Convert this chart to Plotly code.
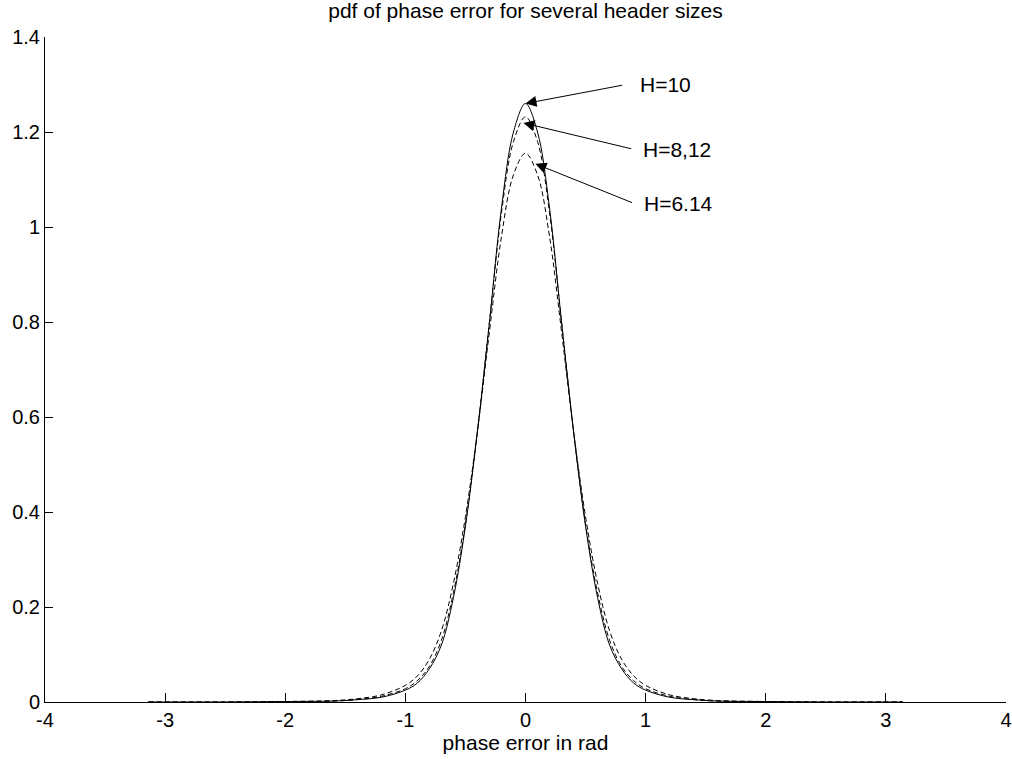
import plotly.graph_objects as go

# phase error grid (rad)
phase = [-3.14, -2.5, -2.0, -1.6, -1.4, -1.2, -1.0, -0.9, -0.8, -0.7, -0.6, -0.5, -0.4, -0.3, -0.2, -0.1, 0.0,
         0.1, 0.2, 0.3, 0.4, 0.5, 0.6, 0.7, 0.8, 0.9, 1.0, 1.2, 1.4, 1.6, 2.0, 2.5, 3.14]

# pdf values
pdf_h10 = [0.0, 0.0, 0.001, 0.002, 0.005, 0.01, 0.025, 0.04, 0.07, 0.12, 0.22, 0.37, 0.57, 0.80, 1.04, 1.20, 1.26,
           1.20, 1.04, 0.80, 0.57, 0.37, 0.22, 0.12, 0.07, 0.04, 0.025, 0.01, 0.005, 0.002, 0.001, 0.0, 0.0]
pdf_h8_12 = [0.0, 0.0, 0.001, 0.002, 0.005, 0.012, 0.028, 0.045, 0.075, 0.13, 0.23, 0.375, 0.57, 0.80, 1.03, 1.18, 1.232,
             1.18, 1.03, 0.80, 0.57, 0.375, 0.23, 0.13, 0.075, 0.045, 0.028, 0.012, 0.005, 0.002, 0.001, 0.0, 0.0]
pdf_h6_14 = [0.0, 0.0, 0.001, 0.003, 0.007, 0.015, 0.035, 0.055, 0.09, 0.15, 0.25, 0.39, 0.57, 0.78, 0.98, 1.11, 1.155,
             1.11, 0.98, 0.78, 0.57, 0.39, 0.25, 0.15, 0.09, 0.055, 0.035, 0.015, 0.007, 0.003, 0.001, 0.0, 0.0]

labels = ["H=10", "H=8,12", "H=6.14"]
tips_x = [0.0, -0.017, 0.083]
tips_y = [1.26, 1.219, 1.133]
tails_x = [0.817, 0.892, 0.90]
tails_y = [1.299, 1.164, 1.05]
text_x = [0.933, 0.958, 0.967]

x_ticks = [-4, -3, -2, -1, 0, 1, 2, 3, 4]
x_ticktext = ["-4", "-3", "-2", "-1", "0", "1", "2", "3", "4"]
y_ticks = [0, 0.2, 0.4, 0.6, 0.8, 1.0, 1.2, 1.4]
y_ticktext = ["0", "0.2", "0.4", "0.6", "0.8", "1", "1.2", "1.4"]

FONT = "Liberation Sans, Arial, sans-serif"

fig = go.Figure()
fig.add_trace(go.Scatter(x=phase, y=pdf_h6_14, mode="lines", line=dict(color="black", width=1, dash="5px,3px"),
                         line_shape="spline", showlegend=False))
fig.add_trace(go.Scatter(x=phase, y=pdf_h8_12, mode="lines", line=dict(color="black", width=1, dash="5px,3px"),
                         line_shape="spline", showlegend=False))
fig.add_trace(go.Scatter(x=phase, y=pdf_h10, mode="lines", line=dict(color="black", width=1),
                         line_shape="spline", showlegend=False))

for lab, tx, ty, ax_, ay_, lx in zip(labels, tips_x, tips_y, tails_x, tails_y, text_x):
    fig.add_annotation(x=tx, y=ty, ax=ax_, ay=ay_, xref="x", yref="y", axref="x", ayref="y",
                       text="", showarrow=True, arrowhead=2, arrowsize=2.2, arrowwidth=1, arrowcolor="black")
    fig.add_annotation(x=lx, y=ay_, xref="x", yref="y", text=lab, showarrow=False, xanchor="left",
                       yanchor="middle", font=dict(family=FONT, size=21, color="black"))

fig.update_layout(
    width=1012, height=759,
    margin=dict(l=45, r=6, t=37, b=57, autoexpand=False),
    paper_bgcolor="white", plot_bgcolor="white",
    font=dict(family=FONT, size=20, color="black"),
    title=dict(text="pdf of phase error for several header sizes", x=0.5, xref="paper", xanchor="center",
               y=0.986, yref="container", yanchor="middle", font=dict(family=FONT, size=21, color="black")),
    xaxis=dict(range=[-4, 4], tickvals=x_ticks, ticktext=x_ticktext, ticks="inside", ticklen=9, tickwidth=1,
               tickcolor="black", showline=True, linecolor="black", linewidth=1, mirror=False, showgrid=False,
               zeroline=False, automargin=False,
               title=dict(text="phase error in rad", standoff=2, font=dict(family=FONT, size=21))),
    yaxis=dict(range=[0, 1.4], tickvals=y_ticks, ticktext=y_ticktext, ticks="inside", ticklen=8, tickwidth=1,
               tickcolor="black", showline=True, linecolor="black", linewidth=1, mirror=False, showgrid=False,
               zeroline=False, automargin=False),
)

fig.write_html("out.html")
